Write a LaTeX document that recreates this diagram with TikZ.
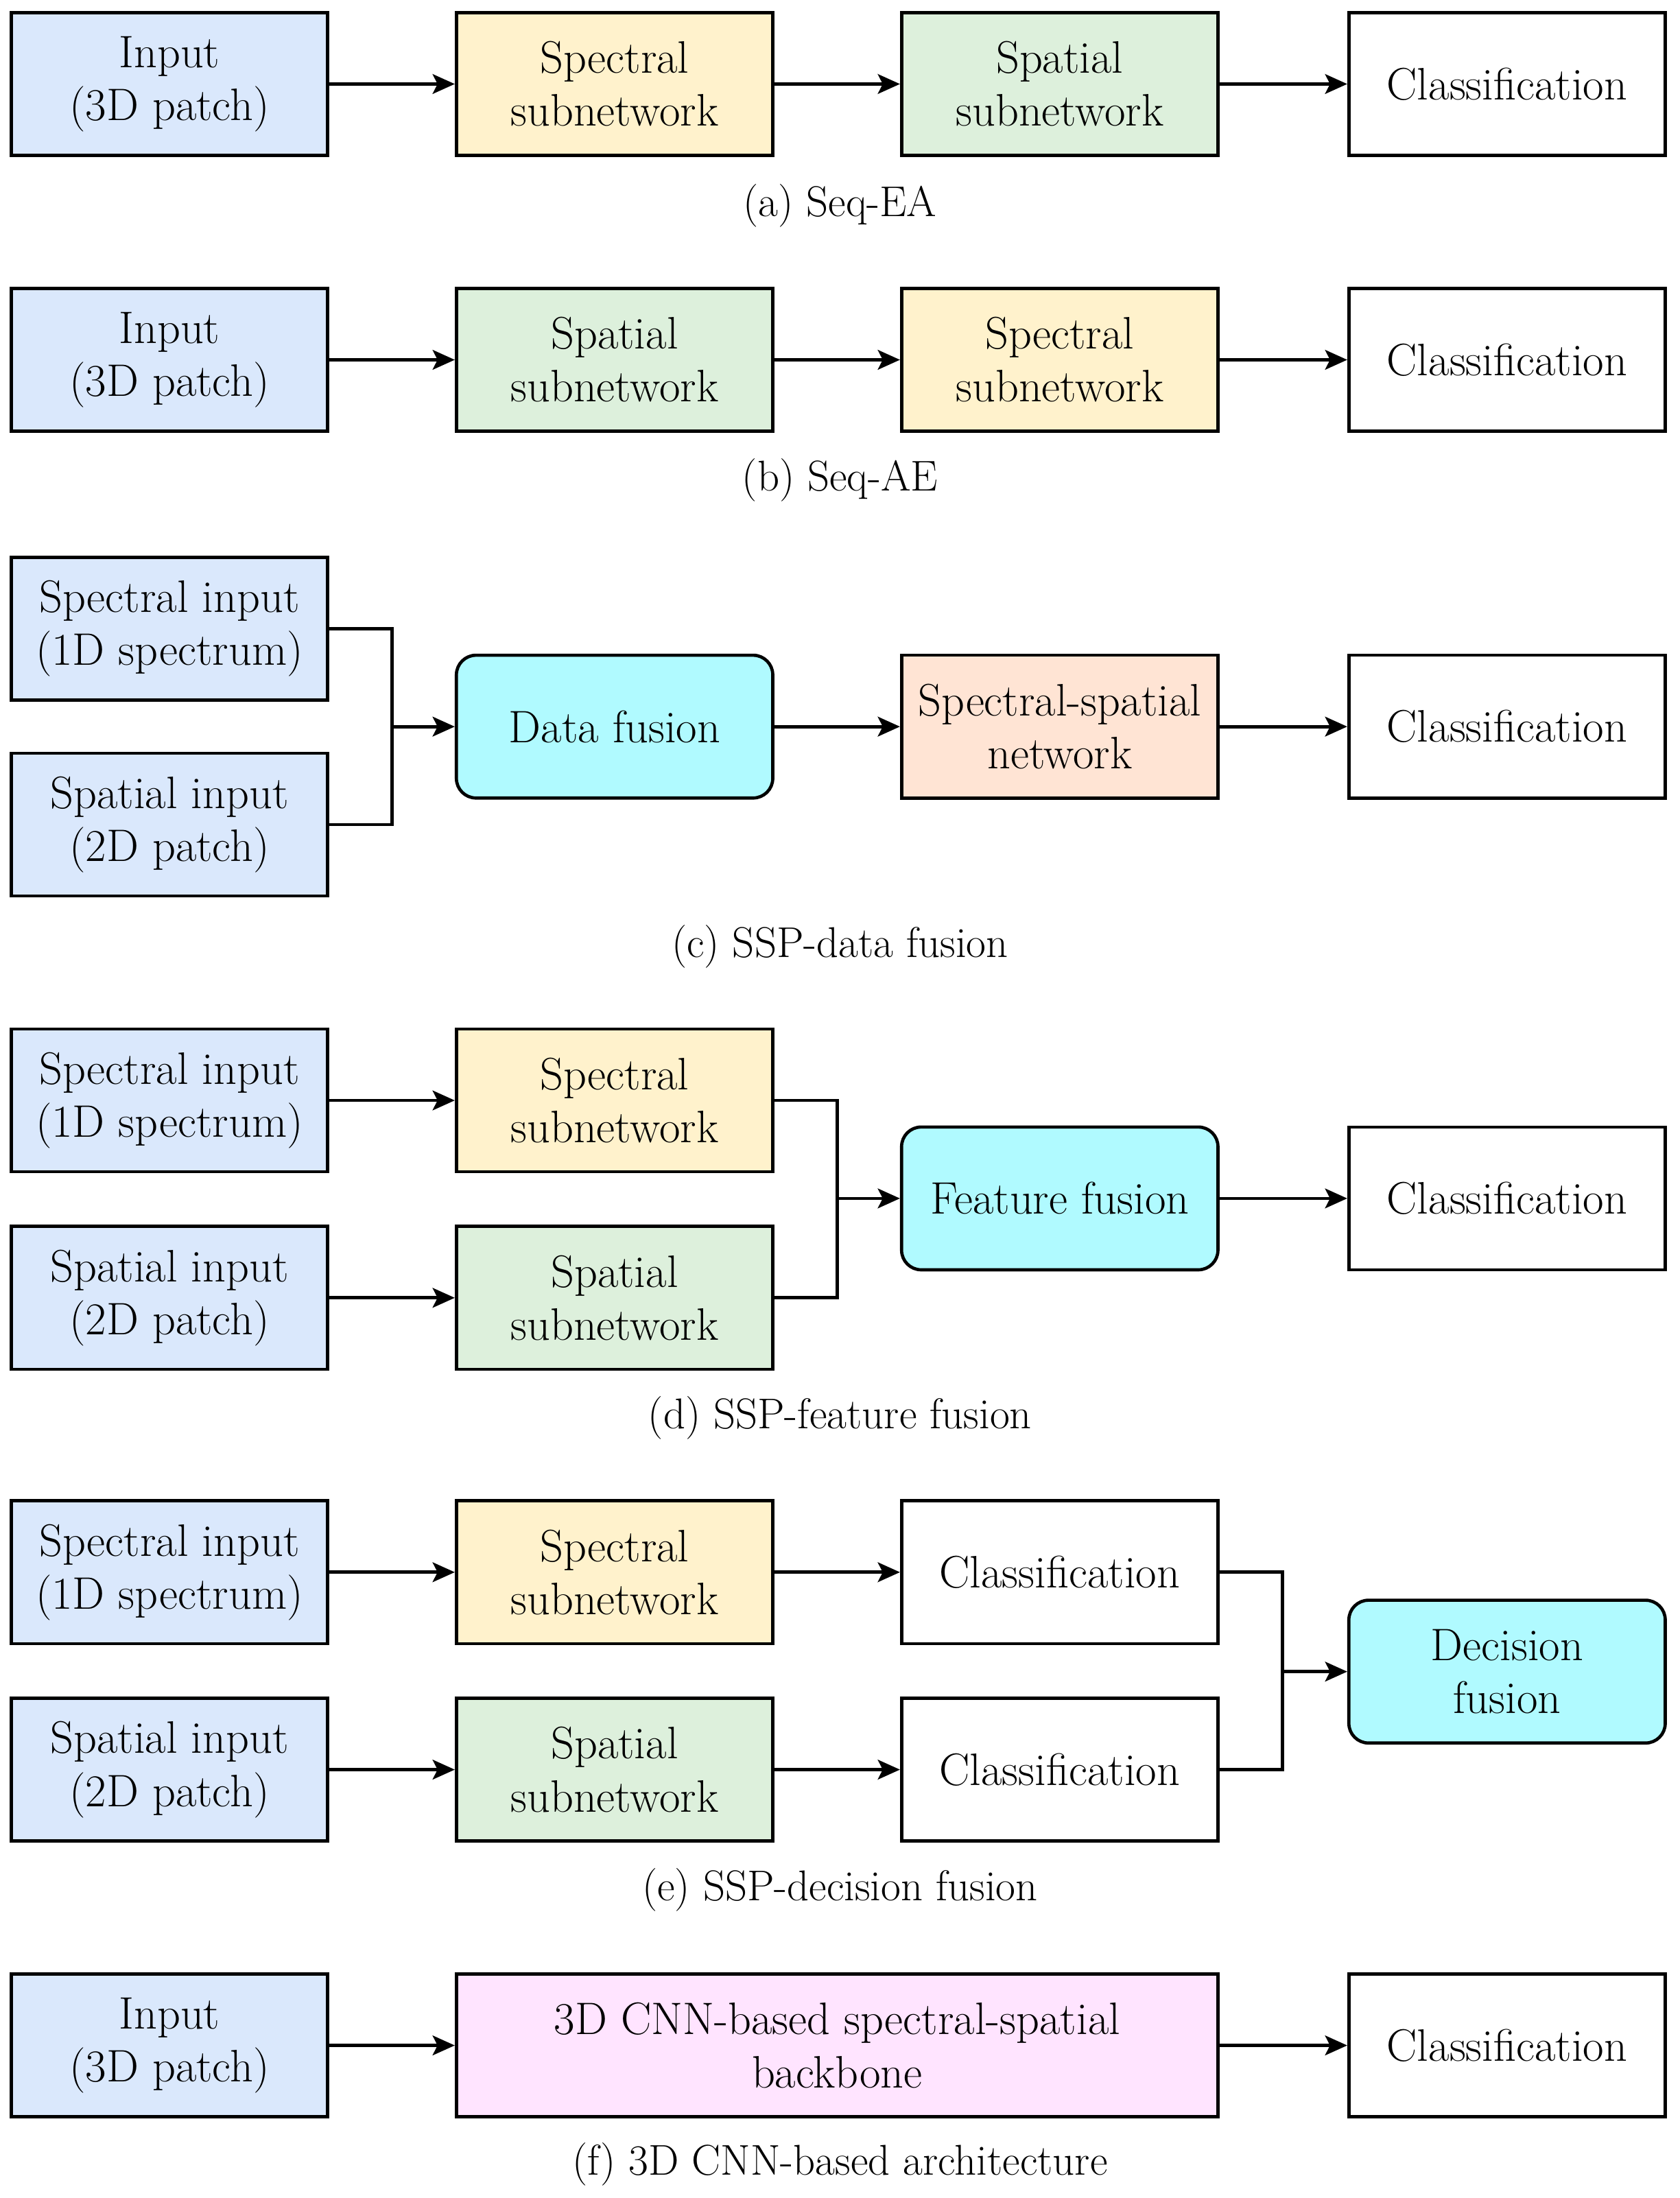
\documentclass[tikz,border=0pt]{standalone}
\usepackage{xcolor}
\usetikzlibrary{arrows.meta, positioning}
\definecolor{inblue}{RGB}{218, 232, 252}
\definecolor{specyellow}{RGB}{255, 242, 204}
\definecolor{spatgreen}{RGB}{221, 240, 220}
\definecolor{fusecyan}{RGB}{176, 250, 255}
\definecolor{netpeach}{RGB}{255, 228, 212}
\definecolor{backpink}{RGB}{255, 228, 255}
\begin{document}
\begin{tikzpicture}[>={Stealth[length=9pt, width=8pt, inset=2pt]}, line width=1.3pt]

\tikzset{
    block/.style={
        draw=black, rectangle, minimum width=4.52cm, minimum height=2.04cm,
        inner sep=2pt, align=center, font=\fontsize{18.5}{21.5}\selectfont
    },
    fuse/.style={block, fill=fusecyan, rounded corners=8pt},
    caption/.style={font=\fontsize{17.5}{20}\selectfont},
    flow/.style={->, line width=1.3pt}
}

\useasboundingbox (0,0) rectangle (24,-31.4);

% --- (a) Seq-EA ---
\node[block, fill=inblue] (aIn) at (2.42,-1.2) {Input\\(3D patch)};
\node[block, fill=specyellow] (aSpec) at (8.78,-1.2) {Spectral\\subnetwork};
\node[block, fill=spatgreen] (aSpat) at (15.14,-1.2) {Spatial\\subnetwork};
\node[block] (aCls) at (21.53,-1.2) {Classification};
\draw[flow] (aIn) -- (aSpec);
\draw[flow] (aSpec) -- (aSpat);
\draw[flow] (aSpat) -- (aCls);
\node[caption] (aCap) at (12,-2.94) {(a) Seq-EA};

% --- (b) Seq-AE ---
\node[block, fill=inblue] (bIn) at (2.42,-5.14) {Input\\(3D patch)};
\node[block, fill=spatgreen] (bSpat) at (8.78,-5.14) {Spatial\\subnetwork};
\node[block, fill=specyellow] (bSpec) at (15.14,-5.14) {Spectral\\subnetwork};
\node[block] (bCls) at (21.53,-5.14) {Classification};
\draw[flow] (bIn) -- (bSpat);
\draw[flow] (bSpat) -- (bSpec);
\draw[flow] (bSpec) -- (bCls);
\node[caption] (bCap) at (12,-6.86) {(b) Seq-AE};

% --- (c) SSP-data fusion ---
\node[block, fill=inblue] (cSpecIn) at (2.42,-8.98) {Spectral input\\(1D spectrum)};
\node[block, fill=inblue] (cSpatIn) at (2.42,-11.78) {Spatial input\\(2D patch)};
\node[fuse] (cFus) at (8.78,-10.38) {Data fusion};
\node[block, fill=netpeach] (cNet) at (15.14,-10.38) {Spectral-spatial\\network};
\node[block] (cCls) at (21.53,-10.38) {Classification};
\coordinate (cJoin) at (5.6,-10.38);
\draw (cSpecIn.east) -| (cJoin) |- (cSpatIn.east);
\draw[flow] (cJoin) -- (cFus);
\draw[flow] (cFus) -- (cNet);
\draw[flow] (cNet) -- (cCls);
\node[caption] (cCap) at (12,-13.52) {(c) SSP-data fusion};

% --- (d) SSP-feature fusion ---
\node[block, fill=inblue] (dSpecIn) at (2.42,-15.72) {Spectral input\\(1D spectrum)};
\node[block, fill=inblue] (dSpatIn) at (2.42,-18.54) {Spatial input\\(2D patch)};
\node[block, fill=specyellow] (dSpec) at (8.78,-15.72) {Spectral\\subnetwork};
\node[block, fill=spatgreen] (dSpat) at (8.78,-18.54) {Spatial\\subnetwork};
\node[fuse] (dFus) at (15.14,-17.12) {Feature fusion};
\node[block] (dCls) at (21.53,-17.12) {Classification};
\coordinate (dJoin) at (11.96,-17.12);
\draw[flow] (dSpecIn) -- (dSpec);
\draw[flow] (dSpatIn) -- (dSpat);
\draw (dSpec.east) -| (dJoin) |- (dSpat.east);
\draw[flow] (dJoin) -- (dFus);
\draw[flow] (dFus) -- (dCls);
\node[caption] (dCap) at (12,-20.26) {(d) SSP-feature fusion};

% --- (e) SSP-decision fusion ---
\node[block, fill=inblue] (eSpecIn) at (2.42,-22.46) {Spectral input\\(1D spectrum)};
\node[block, fill=inblue] (eSpatIn) at (2.42,-25.28) {Spatial input\\(2D patch)};
\node[block, fill=specyellow] (eSpec) at (8.78,-22.46) {Spectral\\subnetwork};
\node[block, fill=spatgreen] (eSpat) at (8.78,-25.28) {Spatial\\subnetwork};
\node[block] (eCls1) at (15.14,-22.46) {Classification};
\node[block] (eCls2) at (15.14,-25.28) {Classification};
\node[fuse] (eFus) at (21.53,-23.88) {Decision\\fusion};
\coordinate (eJoin) at (18.32,-23.88);
\draw[flow] (eSpecIn) -- (eSpec);
\draw[flow] (eSpatIn) -- (eSpat);
\draw[flow] (eSpec) -- (eCls1);
\draw[flow] (eSpat) -- (eCls2);
\draw (eCls1.east) -| (eJoin) |- (eCls2.east);
\draw[flow] (eJoin) -- (eFus);
\node[caption] (eCap) at (12,-27.0) {(e) SSP-decision fusion};

% --- (f) 3D CNN-based architecture ---
\node[block, fill=inblue] (fIn) at (2.42,-29.22) {Input\\(3D patch)};
\node[block, fill=backpink, minimum width=10.88cm] (fBack) at (11.96,-29.22) {3D CNN-based spectral-spatial\\backbone};
\node[block] (fCls) at (21.53,-29.22) {Classification};
\draw[flow] (fIn) -- (fBack);
\draw[flow] (fBack) -- (fCls);
\node[caption] (fCap) at (12,-30.92) {(f) 3D CNN-based architecture};

\end{tikzpicture}
\end{document}
